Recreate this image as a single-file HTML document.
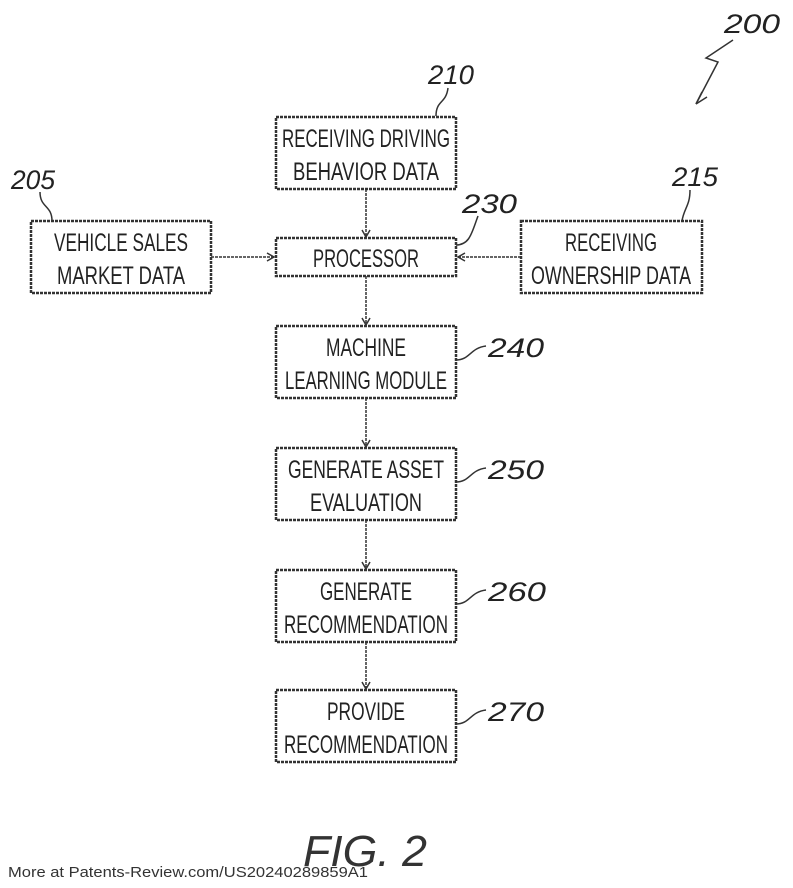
<!DOCTYPE html>
<html><head><meta charset="utf-8"><style>
html,body{margin:0;padding:0;background:#fff;}
svg{display:block;}
.t{font-family:"Liberation Sans",sans-serif;font-size:25px;fill:#222;text-anchor:middle;}
.n{font-family:"Liberation Sans",sans-serif;font-size:27px;fill:#222;font-style:italic;}
</style></head><body>
<svg width="793" height="888" viewBox="0 0 793 888" xmlns="http://www.w3.org/2000/svg">
<defs><marker id="a" markerWidth="10" markerHeight="10" refX="8" refY="5" orient="auto" markerUnits="userSpaceOnUse"><path d="M1,1 L8,5 L1,9" fill="none" stroke="#333" stroke-width="1.5"/></marker></defs>
<g fill="none" stroke="#333" stroke-width="2.5" stroke-dasharray="3 1">
<rect x="276" y="117" width="180" height="72"/>
<rect x="276" y="238" width="180" height="38"/>
<rect x="31" y="221" width="180" height="72"/>
<rect x="521" y="221" width="181" height="72"/>
<rect x="276" y="326" width="180" height="72"/>
<rect x="276" y="448" width="180" height="72"/>
<rect x="276" y="570" width="180" height="72"/>
<rect x="276" y="690" width="180" height="72"/>
</g>
<g fill="none" stroke="#333" stroke-width="1.5" stroke-dasharray="3 1" marker-end="url(#a)">
<line x1="366" y1="189" x2="366" y2="237"/>
<line x1="211" y1="257" x2="274" y2="257"/>
<line x1="521" y1="257" x2="458" y2="257"/>
<line x1="366" y1="276" x2="366" y2="325"/>
<line x1="366" y1="398" x2="366" y2="447"/>
<line x1="366" y1="520" x2="366" y2="569"/>
<line x1="366" y1="642" x2="366" y2="689"/>
</g>
<g fill="none" stroke="#333" stroke-width="1.5">
<path d="M436,116 C436,100 446,104 448,88"/>
<path d="M52,221 C52,205 40,208 40,192"/>
<path d="M682,221 C684,208 690,206 690,190"/>
<path d="M456,245 C470,245 472,232 478,216"/>
<path d="M456,360 C470,360 470,348 486,346"/>
<path d="M456,482 C470,482 470,470 486,468"/>
<path d="M456,604 C470,604 470,592 486,590"/>
<path d="M456,724 C470,724 470,712 486,710"/>
<path d="M733,40 L706,58 L718,62 L696,104"/>
<path d="M696,104 L702,92 M696,104 L707,97"/>
</g>
<text class="t" x="366" y="147" textLength="168" lengthAdjust="spacingAndGlyphs">RECEIVING DRIVING</text>
<text class="t" x="366" y="180" textLength="146" lengthAdjust="spacingAndGlyphs">BEHAVIOR DATA</text>
<text class="t" x="366" y="267" textLength="106" lengthAdjust="spacingAndGlyphs">PROCESSOR</text>
<text class="t" x="121" y="251" textLength="134" lengthAdjust="spacingAndGlyphs">VEHICLE SALES</text>
<text class="t" x="121" y="284" textLength="128" lengthAdjust="spacingAndGlyphs">MARKET DATA</text>
<text class="t" x="611" y="251" textLength="92" lengthAdjust="spacingAndGlyphs">RECEIVING</text>
<text class="t" x="611" y="284" textLength="160" lengthAdjust="spacingAndGlyphs">OWNERSHIP DATA</text>
<text class="t" x="366" y="356" textLength="80" lengthAdjust="spacingAndGlyphs">MACHINE</text>
<text class="t" x="366" y="389" textLength="162" lengthAdjust="spacingAndGlyphs">LEARNING MODULE</text>
<text class="t" x="366" y="478" textLength="156" lengthAdjust="spacingAndGlyphs">GENERATE ASSET</text>
<text class="t" x="366" y="511" textLength="112" lengthAdjust="spacingAndGlyphs">EVALUATION</text>
<text class="t" x="366" y="600" textLength="92" lengthAdjust="spacingAndGlyphs">GENERATE</text>
<text class="t" x="366" y="633" textLength="164" lengthAdjust="spacingAndGlyphs">RECOMMENDATION</text>
<text class="t" x="366" y="720" textLength="78" lengthAdjust="spacingAndGlyphs">PROVIDE</text>
<text class="t" x="366" y="753" textLength="164" lengthAdjust="spacingAndGlyphs">RECOMMENDATION</text>
<text class="n" x="428" y="84" textLength="46" lengthAdjust="spacingAndGlyphs">210</text>
<text class="n" x="724" y="33" textLength="56" lengthAdjust="spacingAndGlyphs">200</text>
<text class="n" x="11" y="189" textLength="44" lengthAdjust="spacingAndGlyphs">205</text>
<text class="n" x="672" y="186" textLength="46" lengthAdjust="spacingAndGlyphs">215</text>
<text class="n" x="462" y="213" textLength="55" lengthAdjust="spacingAndGlyphs">230</text>
<text class="n" x="488" y="357" textLength="56" lengthAdjust="spacingAndGlyphs">240</text>
<text class="n" x="488" y="479" textLength="56" lengthAdjust="spacingAndGlyphs">250</text>
<text class="n" x="488" y="601" textLength="58" lengthAdjust="spacingAndGlyphs">260</text>
<text class="n" x="488" y="721" textLength="56" lengthAdjust="spacingAndGlyphs">270</text>
<text x="303" y="866" font-family="Liberation Sans,sans-serif" font-size="44" font-style="italic" fill="#333" textLength="124" lengthAdjust="spacingAndGlyphs">FIG. 2</text>
<text x="8" y="877" font-family="Liberation Sans,sans-serif" font-size="15" fill="#333" textLength="360" lengthAdjust="spacingAndGlyphs">More at Patents-Review.com/US20240289859A1</text>
</svg>
</body></html>
